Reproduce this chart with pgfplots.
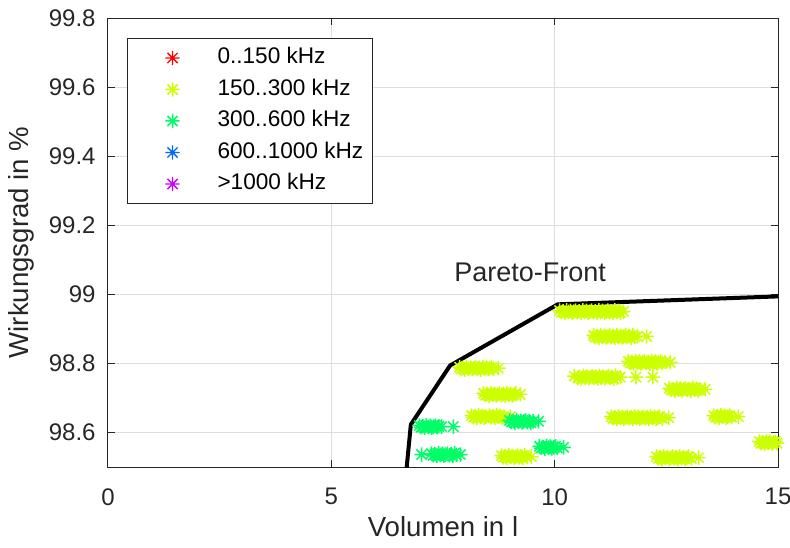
\documentclass[border=0pt]{standalone}
\usepackage{fontspec}
\setmainfont{Liberation Sans}
\usepackage{pgfplots}
\pgfplotsset{compat=1.18}
\usepackage{pgfplotstable}

% eight-armed asterisk (plus overlaid with a cross)
\pgfdeclareplotmark{ast8}{%
  \pgfpathmoveto{\pgfqpoint{-\pgfplotmarksize}{0pt}}%
  \pgfpathlineto{\pgfqpoint{\pgfplotmarksize}{0pt}}%
  \pgfpathmoveto{\pgfqpoint{0pt}{-\pgfplotmarksize}}%
  \pgfpathlineto{\pgfqpoint{0pt}{\pgfplotmarksize}}%
  \pgfpathmoveto{\pgfqpoint{-0.707\pgfplotmarksize}{-0.707\pgfplotmarksize}}%
  \pgfpathlineto{\pgfqpoint{0.707\pgfplotmarksize}{0.707\pgfplotmarksize}}%
  \pgfpathmoveto{\pgfqpoint{-0.707\pgfplotmarksize}{0.707\pgfplotmarksize}}%
  \pgfpathlineto{\pgfqpoint{0.707\pgfplotmarksize}{-0.707\pgfplotmarksize}}%
  \pgfusepathqstroke}

\definecolor{fA}{rgb}{1,0,0}
\definecolor{fB}{rgb}{0.8,1,0}
\definecolor{fC}{rgb}{0,1,0.4}
\definecolor{fD}{rgb}{0,0.4,1}
\definecolor{fE}{rgb}{0.8,0,1}
\definecolor{axgray}{rgb}{0.15,0.15,0.15}

% designs switching at 150..300 kHz
\pgfplotstableread{
x y
7.87 98.789
7.91 98.784
7.95 98.787
7.99 98.782
8.03 98.790
8.07 98.785
8.11 98.788
8.15 98.783
8.19 98.786
8.23 98.789
8.27 98.784
8.31 98.787
8.35 98.782
8.39 98.790
8.43 98.785
8.47 98.788
8.51 98.783
8.55 98.786
8.59 98.789
8.63 98.784
8.74 98.786
8.41 98.713
8.45 98.708
8.49 98.711
8.53 98.706
8.57 98.714
8.61 98.709
8.65 98.712
8.69 98.707
8.73 98.710
8.77 98.713
8.81 98.708
8.85 98.711
8.89 98.706
8.93 98.714
8.97 98.709
9.01 98.712
9.05 98.707
9.09 98.710
9.13 98.713
9.23 98.710
8.14 98.649
8.18 98.644
8.22 98.647
8.26 98.642
8.30 98.650
8.34 98.645
8.38 98.648
8.42 98.643
8.46 98.646
8.54 98.649
8.58 98.644
8.62 98.647
8.66 98.642
8.70 98.650
8.74 98.645
8.78 98.648
8.82 98.643
8.86 98.646
9.01 98.646
8.81 98.533
8.85 98.528
8.89 98.531
8.93 98.526
8.97 98.534
9.01 98.529
9.05 98.532
9.09 98.527
9.13 98.530
9.17 98.533
9.21 98.528
9.25 98.531
9.29 98.526
9.33 98.534
9.37 98.529
9.48 98.530
10.11 98.953
10.15 98.948
10.19 98.951
10.23 98.946
10.27 98.954
10.31 98.949
10.35 98.952
10.39 98.947
10.43 98.950
10.47 98.953
10.51 98.948
10.55 98.951
10.59 98.946
10.63 98.954
10.67 98.949
10.71 98.952
10.75 98.947
10.79 98.950
10.83 98.953
10.87 98.948
10.91 98.951
10.95 98.946
10.99 98.954
11.03 98.949
11.07 98.952
11.11 98.947
11.15 98.950
11.19 98.953
11.23 98.948
11.27 98.951
11.31 98.946
11.35 98.954
11.39 98.949
11.43 98.952
11.47 98.947
11.54 98.950
10.87 98.881
10.91 98.876
10.95 98.879
10.99 98.874
11.03 98.882
11.07 98.877
11.11 98.880
11.15 98.875
11.19 98.878
11.23 98.881
11.27 98.876
11.31 98.879
11.35 98.874
11.39 98.882
11.43 98.877
11.47 98.880
11.51 98.875
11.55 98.878
11.59 98.881
11.63 98.876
11.67 98.879
11.71 98.874
11.75 98.882
11.79 98.877
11.85 98.878
12.06 98.878
11.65 98.806
11.69 98.801
11.73 98.804
11.77 98.799
11.81 98.807
11.85 98.802
11.89 98.805
11.93 98.800
11.97 98.803
12.01 98.806
12.05 98.801
12.09 98.804
12.13 98.799
12.17 98.807
12.21 98.802
12.25 98.805
12.29 98.800
12.33 98.803
12.37 98.806
12.41 98.801
12.47 98.804
12.59 98.803
10.44 98.763
10.52 98.758
10.56 98.761
10.60 98.756
10.64 98.764
10.68 98.759
10.72 98.762
10.76 98.757
10.80 98.760
10.84 98.763
10.88 98.758
10.92 98.761
10.96 98.756
11.00 98.764
11.04 98.759
11.08 98.762
11.12 98.757
11.16 98.760
11.20 98.763
11.24 98.758
11.28 98.761
11.32 98.756
11.36 98.764
11.40 98.759
11.47 98.760
11.82 98.760
12.20 98.760
12.57 98.728
12.61 98.723
12.65 98.726
12.69 98.721
12.73 98.729
12.77 98.724
12.81 98.727
12.85 98.722
12.89 98.725
12.93 98.728
12.97 98.723
13.01 98.726
13.05 98.721
13.09 98.729
13.13 98.724
13.17 98.727
13.21 98.722
13.25 98.725
13.37 98.725
11.27 98.646
11.31 98.641
11.35 98.644
11.39 98.639
11.43 98.647
11.47 98.642
11.51 98.645
11.55 98.640
11.59 98.643
11.63 98.646
11.67 98.641
11.71 98.644
11.75 98.639
11.79 98.647
11.83 98.642
11.87 98.645
11.91 98.640
11.95 98.643
11.99 98.646
12.03 98.641
12.07 98.644
12.11 98.639
12.15 98.647
12.19 98.642
12.23 98.645
12.27 98.640
12.31 98.643
12.35 98.646
12.41 98.641
12.55 98.643
13.56 98.649
13.60 98.644
13.64 98.647
13.68 98.642
13.72 98.650
13.76 98.645
13.80 98.648
13.84 98.643
13.88 98.646
13.92 98.649
13.96 98.644
14.11 98.646
14.58 98.574
14.62 98.569
14.66 98.572
14.70 98.567
14.74 98.575
14.78 98.570
14.82 98.573
14.86 98.568
14.90 98.571
14.94 98.574
14.98 98.569
12.28 98.530
12.32 98.525
12.36 98.528
12.40 98.523
12.44 98.531
12.48 98.526
12.52 98.529
12.56 98.524
12.60 98.527
12.64 98.530
12.68 98.525
12.72 98.528
12.76 98.523
12.80 98.531
12.84 98.526
12.88 98.529
12.92 98.524
12.96 98.527
13.00 98.530
13.06 98.525
13.22 98.527
}\bandB

% designs switching at 300..600 kHz
\pgfplotstableread{
x y
8.99 98.635
9.03 98.630
9.07 98.633
9.11 98.628
9.15 98.636
9.19 98.631
9.23 98.634
9.27 98.629
9.31 98.632
9.35 98.635
9.39 98.630
9.43 98.633
9.47 98.628
9.52 98.632
9.64 98.632
6.97 98.620
7.01 98.615
7.05 98.618
7.09 98.613
7.13 98.621
7.17 98.616
7.21 98.619
7.25 98.614
7.29 98.617
7.33 98.620
7.37 98.615
7.41 98.618
7.47 98.617
7.73 98.617
7.02 98.536
7.24 98.539
7.28 98.534
7.32 98.537
7.36 98.532
7.40 98.540
7.44 98.535
7.48 98.538
7.52 98.533
7.56 98.536
7.60 98.539
7.64 98.534
7.68 98.537
7.72 98.532
7.76 98.540
7.80 98.535
7.89 98.536
9.66 98.560
9.70 98.555
9.74 98.558
9.78 98.553
9.82 98.561
9.86 98.556
9.90 98.559
9.94 98.554
9.98 98.557
10.02 98.560
10.06 98.555
10.20 98.557
}\bandC

% Pareto front
\pgfplotstableread{
x y
6.65 98.450
6.78 98.623
7.66 98.794
10.07 98.971
15.00 98.994
}\front

\begin{document}
\begin{tikzpicture}
\begin{axis}[
  scale only axis,
  width=335pt, height=224.5pt,
  xmin=0, xmax=15, ymin=98.5, ymax=99.8,
  xtick={0,5,10,15},
  ytick={98.6,98.8,99,99.2,99.4,99.6,99.8},
  /pgf/number format/assume math mode=true,
  tick align=inside,
  major tick length=3.5pt,
  axis line style={axgray, line width=0.5pt},
  every tick/.style={axgray, line width=0.5pt},
  grid=major,
  major grid style={color=black!13, line width=0.5pt},
  ticklabel style={font=\fontsize{12}{14}\selectfont, text=axgray, inner sep=0pt},
  yticklabel style={xshift=-6pt},
  xticklabel style={yshift=-10.5pt},
  xlabel={Volumen in l},
  ylabel={Wirkungsgrad in \%},
  label style={font=\fontsize{13.8}{16}\selectfont, text=axgray},
  xlabel style={at={(axis description cs:0.5,-0.1336)}, anchor=center},
  ylabel style={at={(axis description cs:-0.1299,0.5)}, anchor=center},
  legend cell align=left,
  legend image code/.code={%
    \path[draw=none, fill=none] (0pt,0pt) -- (40.5pt,0pt);
    \draw[#1] plot coordinates {(18pt,0pt)};},
  legend style={
    at={(rel axis cs:0.0284,0.9555)}, anchor=north west,
    draw=axgray, line width=0.5pt, fill=white,
    inner xsep=4.5pt, inner ysep=4.75pt,
    row sep=5.75pt, column sep=0pt,
    font=\fontsize{11.3}{13}\selectfont,
    nodes={inner sep=0pt, text height=8pt, text depth=2pt},
  },
  mark size=3.6pt,
]
\addlegendimage{only marks, mark=ast8, mark options={fA, line width=0.7pt}}
\addlegendentry{0..150 kHz}
\addplot[only marks, mark=ast8, mark options={fB, line width=0.75pt}] table {\bandB};
\addlegendentry{150..300 kHz}
\addplot[only marks, mark=ast8, mark options={fC, line width=0.75pt}] table {\bandC};
\addlegendentry{300..600 kHz}
\addlegendimage{only marks, mark=ast8, mark options={fD, line width=0.7pt}}
\addlegendentry{600..1000 kHz}
\addlegendimage{only marks, mark=ast8, mark options={fE, line width=0.7pt}}
\addlegendentry{>1000 kHz}
\addplot[black, line width=2pt, no marks, forget plot] table {\front};
\node[font=\fontsize{13.5}{16}\selectfont, text=axgray] at (axis cs:9.45,99.064) {Pareto-Front};
\end{axis}
\pgfresetboundingbox
\path ([shift={(-54pt,-40pt)}]current axis.south west) rectangle ([shift={(6pt,9pt)}]current axis.north east);
\end{tikzpicture}
\end{document}
